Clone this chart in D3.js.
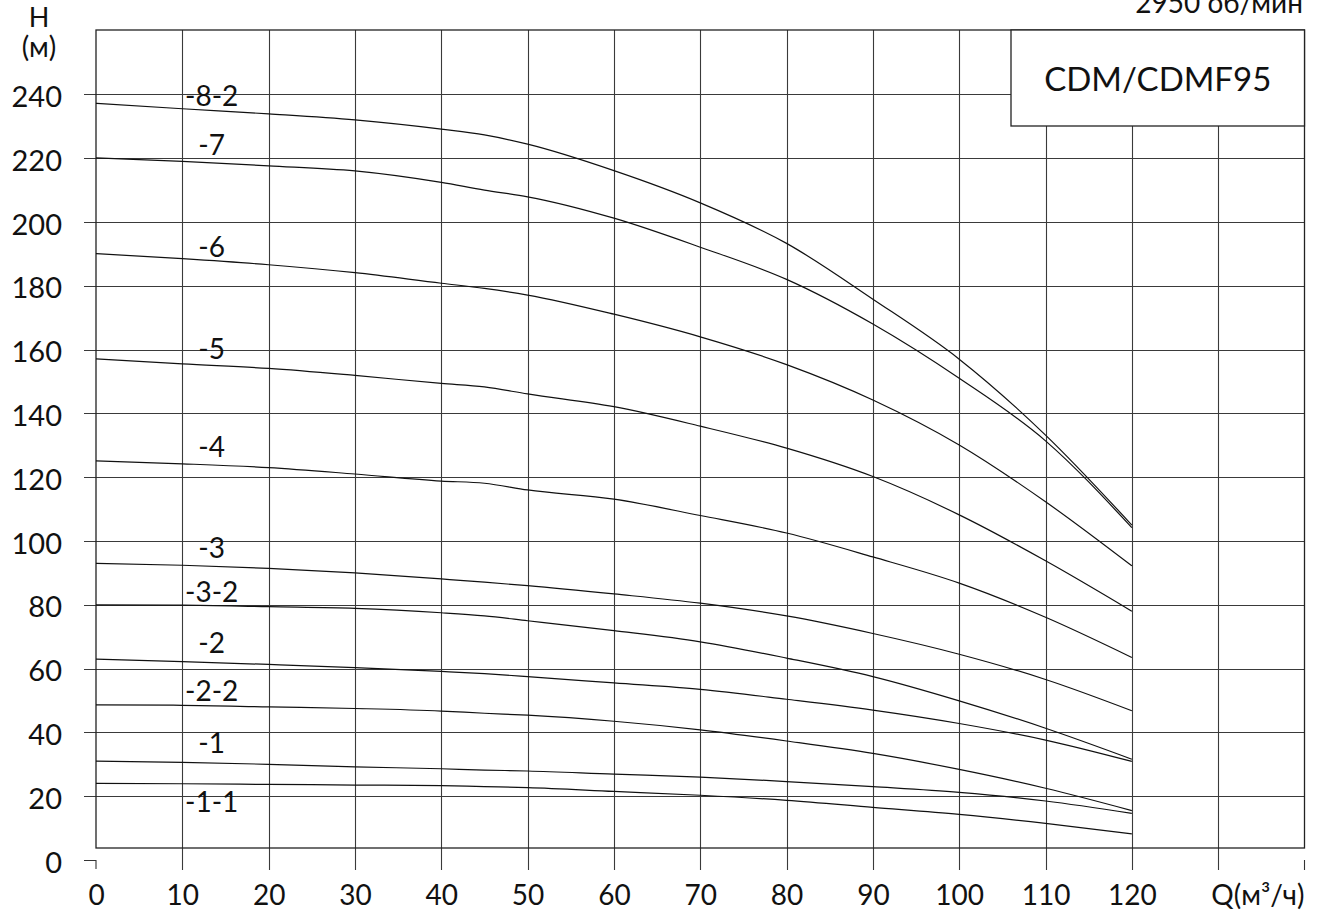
<!DOCTYPE html>
<html>
<head>
<meta charset="utf-8">
<script src="https://cdn.jsdelivr.net/npm/d3@7"></script>
<style>
  html, body { margin: 0; padding: 0; background: #fff; }
  svg { display: block; }
  text { font-family: Lato, "Open Sans", sans-serif; fill: #111; }
</style>
</head>
<body>
<svg id="chart" width="1317" height="913"></svg>
<script>
// ---- data ----
const flowQ = [0, 10, 20, 30, 40, 45, 50, 60, 70, 80, 90, 100, 110, 120];
const seriesNames = ["-8-2", "-7", "-6", "-5", "-4", "-3", "-3-2", "-2", "-2-2", "-1", "-1-1"];
const head_8_2 = [237.2, 235.5, 233.9, 232.0, 229.1, 227.3, 224.4, 216.1, 206.0, 193.3, 175.8, 157.0, 133.2, 105.0];
const head_7   = [220.1, 219.0, 217.6, 216.0, 212.4, 210.0, 207.9, 201.2, 192.1, 182.0, 168.0, 151.0, 131.4, 104.2];
const head_6   = [190.1, 188.5, 186.6, 184.1, 180.8, 179.2, 177.1, 171.1, 164.0, 155.3, 144.2, 130.1, 112.3, 92.2];
const head_5   = [157.1, 155.5, 154.1, 151.9, 149.4, 148.3, 146.1, 142.1, 136.0, 129.1, 120.2, 108.2, 93.8, 78.0];
const head_4   = [125.1, 124.2, 123.0, 121.0, 118.8, 118.1, 116.0, 113.1, 108.0, 102.5, 95.0, 86.8, 76.1, 63.5];
const head_3   = [93.0, 92.4, 91.4, 90.0, 88.1, 87.1, 86.0, 83.4, 80.5, 76.5, 71.0, 64.5, 56.6, 46.8];
const head_3_2 = [80.0, 79.9, 79.4, 78.9, 77.5, 76.5, 75.0, 71.9, 68.4, 63.3, 57.5, 49.9, 41.3, 31.6];
const head_2   = [63.0, 62.2, 61.3, 60.3, 59.1, 58.4, 57.5, 55.5, 53.5, 50.4, 47.0, 42.8, 37.6, 30.9];
const head_2_2 = [48.6, 48.5, 48.0, 47.5, 46.7, 46.0, 45.4, 43.5, 40.8, 37.3, 33.4, 28.4, 22.5, 15.5];
const head_1   = [31.0, 30.6, 30.0, 29.2, 28.6, 28.2, 27.9, 26.9, 26.0, 24.6, 23.0, 21.2, 18.5, 14.6];
const head_1_1 = [24.0, 23.9, 23.7, 23.5, 23.3, 23.0, 22.7, 21.5, 20.3, 18.7, 16.5, 14.3, 11.5, 8.2];
const labelQ = 13.4;
const labelH = [239.6, 224.0, 192.3, 160.1, 129.5, 97.8, 84.1, 67.9, 53.0, 36.6, 18.3];
const xTickValues = [0, 10, 20, 30, 40, 50, 60, 70, 80, 90, 100, 110, 120];
const xGridValues = [10, 20, 30, 40, 50, 60, 70, 80, 90, 100, 110, 120, 130];
const yTickValues = [0, 20, 40, 60, 80, 100, 120, 140, 160, 180, 200, 220, 240];
const xAxisTitle = "Q(м³/ч)";
const yAxisTitle1 = "H";
const yAxisTitle2 = "(м)";
const modelTitle = "CDM/CDMF95";
const speedTitle = "2950 об/мин";

const allHeads = [head_8_2, head_7, head_6, head_5, head_4, head_3, head_3_2, head_2, head_2_2, head_1, head_1_1];

// ---- layout ----
const svg = d3.select("#chart");
const x = d3.scaleLinear().domain([0, 140]).range([96, 1304.5]);
const y = d3.scaleLinear().domain([0, 240]).range([860, 94.4]);
const frameTop = 30, frameBottom = 848;

// horizontal gridlines
svg.append("g").selectAll("line").data(yTickValues.filter(d => d > 0)).join("line")
  .attr("x1", 84).attr("x2", x(140))
  .attr("y1", d => Math.round(y(d)) + 0.5).attr("y2", d => Math.round(y(d)) + 0.5)
  .attr("stroke", "#3a3a3a").attr("stroke-width", 1.1);
// zero tick
svg.append("path")
  .attr("d", `M84,${Math.round(y(0)) + 0.5}H${x(0)}V${Math.round(y(0)) + 9}`)
  .attr("fill", "none").attr("stroke", "#333").attr("stroke-width", 1.1);
svg.append("line")
  .attr("x1", x(140)).attr("x2", x(140)).attr("y1", y(0)).attr("y2", y(0) + 10)
  .attr("stroke", "#333").attr("stroke-width", 1.1);

// vertical gridlines
svg.append("g").selectAll("line").data(xGridValues).join("line")
  .attr("x1", d => Math.round(x(d)) + 0.5).attr("x2", d => Math.round(x(d)) + 0.5)
  .attr("y1", frameTop).attr("y2", 870)
  .attr("stroke", "#3a3a3a").attr("stroke-width", 1.1);

// frame
svg.append("rect")
  .attr("x", x(0)).attr("y", frameTop)
  .attr("width", x(140) - x(0)).attr("height", frameBottom - frameTop)
  .attr("fill", "none").attr("stroke", "#222").attr("stroke-width", 1.3);

// curves
const line = d3.line()
  .x((d, i) => x(flowQ[i]))
  .y(d => y(d))
  .curve(d3.curveMonotoneX);
svg.append("g").selectAll("path").data(allHeads).join("path")
  .attr("d", d => line(d))
  .attr("fill", "none").attr("stroke", "#111").attr("stroke-width", 1.2);

// curve labels
svg.append("g").selectAll("text").data(seriesNames).join("text")
  .attr("x", x(labelQ))
  .attr("y", (d, i) => y(labelH[i]) + 10)
  .attr("text-anchor", "middle")
  .attr("font-size", 28)
  .text(d => d);

// axes labels via d3 axes
const yAxis = svg.append("g").attr("transform", `translate(${x(0)},0)`)
  .call(d3.axisLeft(y).tickValues(yTickValues).tickSize(0).tickPadding(34).tickFormat(d3.format("d")));
yAxis.select(".domain").remove();
yAxis.selectAll("text").attr("font-size", 29).attr("font-family", "Lato, sans-serif").attr("fill", "#111").attr("dy", "0.42em");

const xAxis = svg.append("g").attr("transform", `translate(0,${y(0)})`)
  .call(d3.axisBottom(x).tickValues(xTickValues).tickSize(0).tickPadding(25).tickFormat(d3.format("d")));
xAxis.select(".domain").remove();
xAxis.selectAll("text").attr("font-size", 28).attr("font-family", "Lato, sans-serif").attr("fill", "#111").attr("dy", "0.71em");

svg.append("text").attr("x", x(140)).attr("y", 905).attr("text-anchor", "end")
  .attr("font-size", 28).text(xAxisTitle);

svg.append("text").attr("x", 39).attr("y", 27).attr("text-anchor", "middle")
  .attr("font-size", 27).text(yAxisTitle1);
svg.append("text").attr("x", 39).attr("y", 57).attr("text-anchor", "middle")
  .attr("font-size", 28).text(yAxisTitle2);

// model box
svg.append("rect").attr("x", 1011).attr("y", frameTop)
  .attr("width", x(140) - 1011).attr("height", 126 - frameTop)
  .attr("fill", "#fff").attr("stroke", "#222").attr("stroke-width", 1.3);
svg.append("text").attr("x", (1011 + x(140)) / 2).attr("y", 91).attr("text-anchor", "middle")
  .attr("font-size", 33).text(modelTitle);

svg.append("text").attr("x", 1303).attr("y", 13).attr("text-anchor", "end")
  .attr("font-size", 28).text(speedTitle);
</script>
</body>
</html>
